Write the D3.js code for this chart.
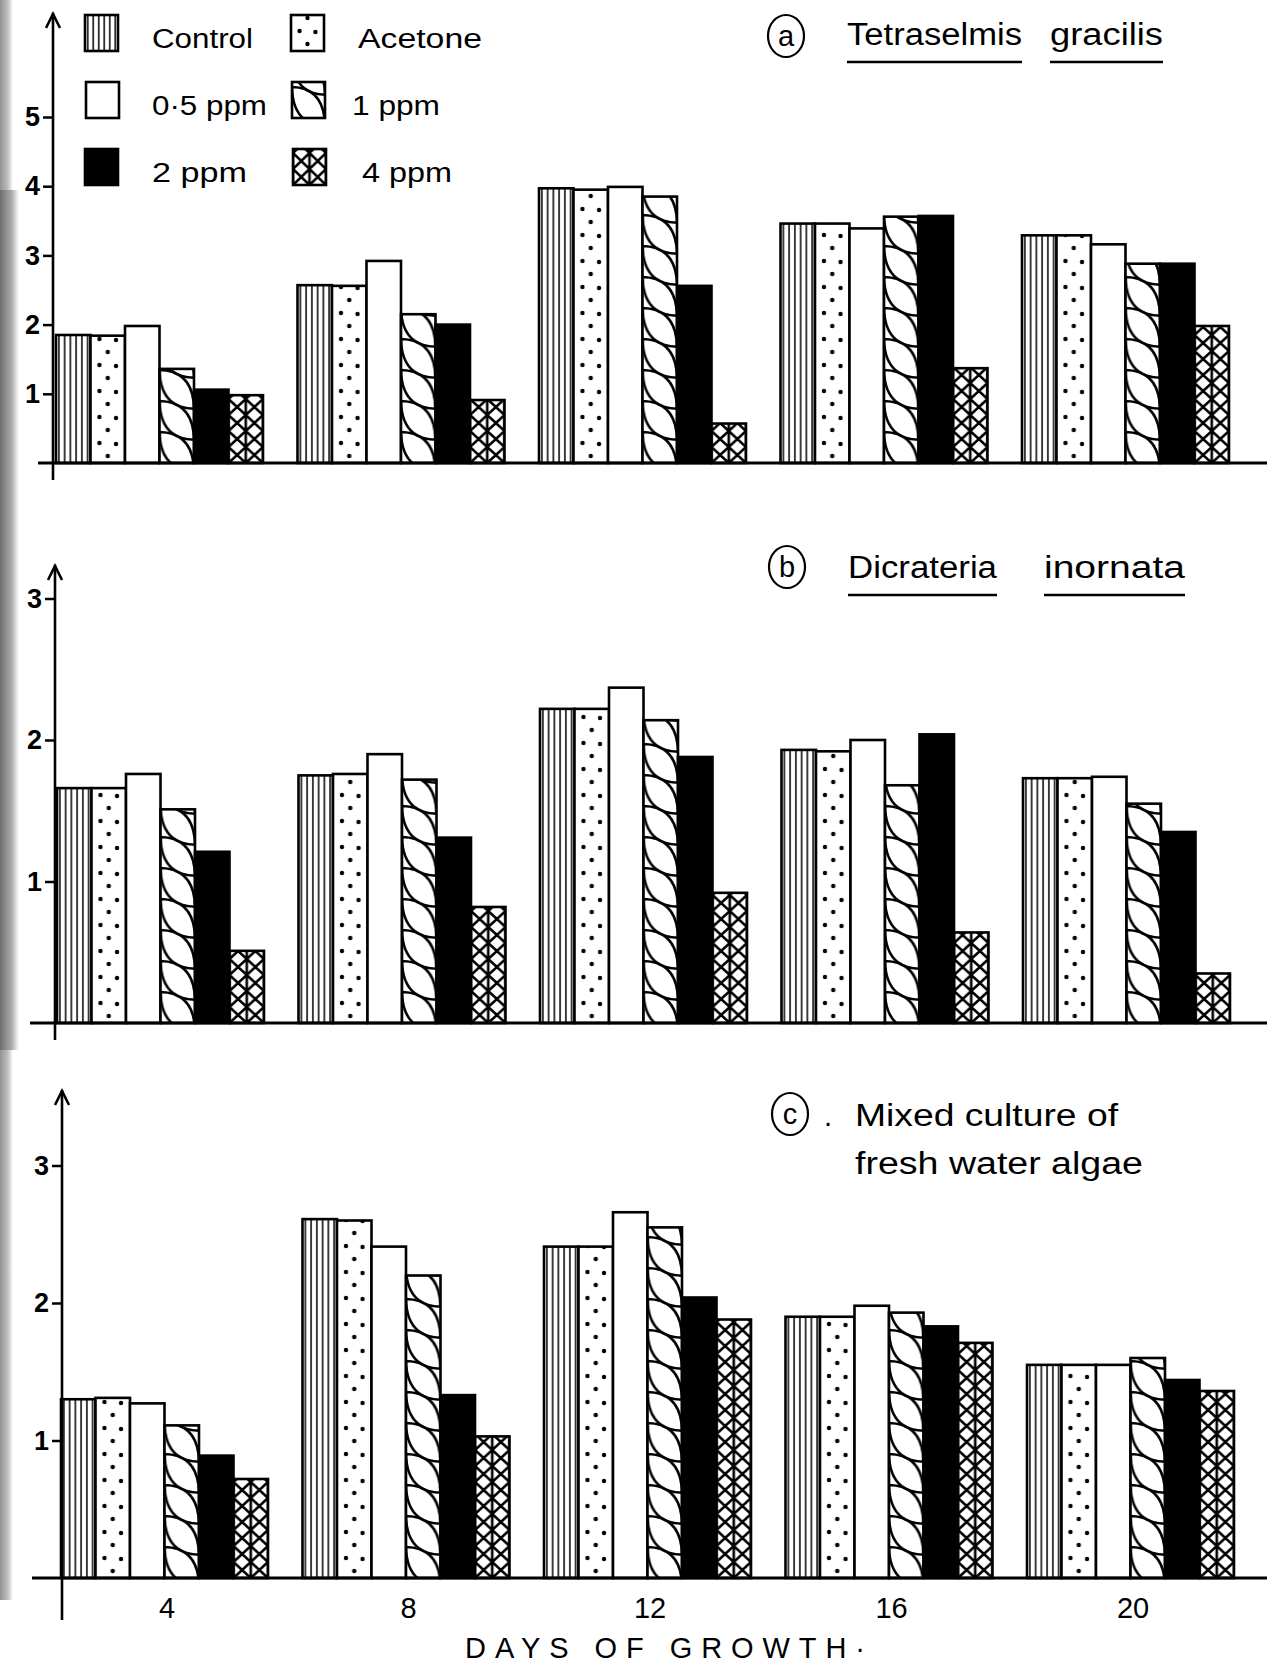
<!DOCTYPE html>
<html><head><meta charset="utf-8">
<script src="https://cdn.jsdelivr.net/npm/d3@7"></script>
<style>body{margin:0;background:#fff}svg{display:block}</style>
</head><body>
<script>
// ---------- data ----------
const days = [4, 8, 12, 16, 20];
const dayLabels = ["4", "8", "12", "16", "20"];
const seriesKeys = ["control", "acetone", "half", "one", "two", "four"];
const seriesNames = ["Control", "Acetone", "0·5 ppm", "1 ppm", "2 ppm", "4 ppm"];
const aTicks = [1, 2, 3, 4, 5];
const bTicks = [1, 2, 3];
const cTicks = [1, 2, 3];

// (a) Tetraselmis gracilis
const aControl = [1.85, 2.57, 3.97, 3.46, 3.29];
const aAcetone = [1.84, 2.56, 3.95, 3.46, 3.29];
const aHalf    = [1.98, 2.92, 3.99, 3.39, 3.16];
const aOne     = [1.36, 2.15, 3.85, 3.56, 2.88];
const aTwo     = [1.06, 2.00, 2.56, 3.57, 2.88];
const aFour    = [0.98, 0.91, 0.57, 1.37, 1.98];
// (b) Dicrateria inornata
const bControl = [1.66, 1.75, 2.22, 1.93, 1.73];
const bAcetone = [1.66, 1.76, 2.22, 1.92, 1.73];
const bHalf    = [1.76, 1.90, 2.37, 2.00, 1.74];
const bOne     = [1.51, 1.72, 2.14, 1.68, 1.55];
const bTwo     = [1.21, 1.31, 1.88, 2.04, 1.35];
const bFour    = [0.51, 0.82, 0.92, 0.64, 0.35];
// (c) Mixed culture of fresh water algae
const cControl = [1.30, 2.61, 2.41, 1.90, 1.55];
const cAcetone = [1.31, 2.60, 2.41, 1.90, 1.55];
const cHalf    = [1.27, 2.41, 2.66, 1.98, 1.55];
const cOne     = [1.11, 2.20, 2.55, 1.93, 1.60];
const cTwo     = [0.89, 1.33, 2.04, 1.83, 1.44];
const cFour    = [0.72, 1.03, 1.88, 1.71, 1.36];

// ---------- layout ----------
const W = 1267, H = 1663;
const FONT = "'Liberation Sans', Arial, sans-serif";
const NARROW = "'Liberation Sans Narrow', 'Liberation Sans', sans-serif";
const svg = d3.select("body").append("svg").attr("width", W).attr("height", H);
const defs = svg.append("defs");

// scanned left margin strip
const gr = defs.append("linearGradient").attr("id", "strip").attr("x1", 0).attr("x2", 1);
gr.append("stop").attr("offset", 0).attr("stop-color", "#6e6e6e");
gr.append("stop").attr("offset", 0.6).attr("stop-color", "#aaaaaa");
gr.append("stop").attr("offset", 1).attr("stop-color", "#fff");
svg.append("rect").attr("x", 0).attr("y", 0).attr("width", 13).attr("height", 1600).attr("fill", "url(#strip)").attr("opacity", 0.75);
svg.append("rect").attr("x", 0).attr("y", 190).attr("width", 19).attr("height", 860).attr("fill", "url(#strip)");

const panels = [
  {id: "a", vals: [aControl, aAcetone, aHalf, aOne, aTwo, aFour], ticks: aTicks, yMax: 5,
   axisX: 53, base: 463, top: 117, tip: 13, axisBottom: 480, x0: 56, baseLeft: 38},
  {id: "b", vals: [bControl, bAcetone, bHalf, bOne, bTwo, bFour], ticks: bTicks, yMax: 3,
   axisX: 55, base: 1023, top: 598.5, tip: 565, axisBottom: 1040, x0: 57, baseLeft: 30},
  {id: "c", vals: [cControl, cAcetone, cHalf, cOne, cTwo, cFour], ticks: cTicks, yMax: 3,
   axisX: 62, base: 1578, top: 1165.5, tip: 1090, axisBottom: 1620, x0: 61, baseLeft: 32}
];

const GROUP_W = 207;
const band = d3.scaleBand().domain(seriesKeys).range([0, GROUP_W]).padding(0);
const bw = band.bandwidth();

function makePattern(id, key, px, py, w) {
  if (key === "half" || key === "two") return null;
  const p = defs.append("pattern").attr("id", id).attr("patternUnits", "userSpaceOnUse").attr("x", px).attr("y", py);
  if (key === "control") {
    const tw = w / 6, th = 10;
    p.attr("width", tw).attr("height", th);
    p.append("rect").attr("width", tw).attr("height", th).attr("fill", "#fff");
    p.append("line").attr("x1", tw / 2).attr("x2", tw / 2).attr("y1", 0).attr("y2", th).attr("stroke", "#000").attr("stroke-width", 1.5);
  } else if (key === "acetone") {
    const tw = w, th = 26;
    p.attr("width", tw).attr("height", th);
    p.append("rect").attr("width", tw).attr("height", th).attr("fill", "#fff");
    p.append("circle").attr("cx", tw * 0.26).attr("cy", 6).attr("r", 2.2).attr("fill", "#000");
    p.append("circle").attr("cx", tw * 0.74).attr("cy", 7).attr("r", 2.2).attr("fill", "#000");
    p.append("circle").attr("cx", tw * 0.5).attr("cy", 19).attr("r", 2.2).attr("fill", "#000");
  } else if (key === "one") {
    const tw = w, th = 31, L = th * 1.25;
    p.attr("width", tw).attr("height", th);
    p.append("rect").attr("width", tw).attr("height", th).attr("fill", "#fff");
    [-2 * th, -th, 0, th].forEach(o => {
      p.append("path")
        .attr("d", `M0,${o} Q${tw * 0.02},${o + L * 0.98} ${tw},${o + L} Q${tw * 0.98},${o + L * 0.02} 0,${o}Z`)
        .attr("fill", "none").attr("stroke", "#000").attr("stroke-width", 2.5);
    });
  } else if (key === "four") {
    const tw = w / 2, th = 16;
    p.attr("width", tw).attr("height", th);
    p.append("rect").attr("width", tw).attr("height", th).attr("fill", "#fff");
    p.append("path").attr("d", `M0,0L${tw},${th}M${tw},0L0,${th}M0,0V${th}M${tw},0V${th}`)
      .attr("stroke", "#000").attr("stroke-width", 2.6).attr("fill", "none");
  }
  return `url(#${id})`;
}
function fillFor(key, url) {
  if (key === "half") return "#fff";
  if (key === "two") return "#000";
  return url;
}

panels.forEach(P => {
  const g = svg.append("g");
  const y = d3.scaleLinear().domain([0, P.yMax]).range([P.base, P.top]);
  const gx = d3.scaleLinear().domain([days[0], days[days.length - 1]]).range([P.x0, P.x0 + 966]);

  // bars
  days.forEach((d, i) => {
    seriesKeys.forEach((k, j) => {
      const v = P.vals[j][i];
      const bx = gx(d) + band(k);
      const url = makePattern(`p${P.id}${i}${j}`, k, bx, P.base, bw);
      g.append("rect")
        .attr("x", bx).attr("y", y(v)).attr("width", bw).attr("height", P.base - y(v))
        .attr("fill", fillFor(k, url)).attr("stroke", "#000").attr("stroke-width", 2.6);
    });
  });

  // baseline
  g.append("line").attr("x1", P.baseLeft).attr("x2", W).attr("y1", P.base).attr("y2", P.base)
    .attr("stroke", "#000").attr("stroke-width", 3);
  // y axis line + arrow
  g.append("line").attr("x1", P.axisX).attr("x2", P.axisX).attr("y1", P.axisBottom).attr("y2", P.tip)
    .attr("stroke", "#000").attr("stroke-width", 2.6);
  g.append("path").attr("d", `M${P.axisX - 7},${P.tip + 15}L${P.axisX},${P.tip + 1}L${P.axisX + 7},${P.tip + 15}`)
    .attr("fill", "none").attr("stroke", "#000").attr("stroke-width", 2.6);
  // ticks
  const ax = g.append("g").attr("transform", `translate(${P.axisX},0)`)
    .call(d3.axisLeft(y).tickValues(P.ticks).tickSize(10).tickPadding(3).tickFormat(d3.format("d")));
  ax.select(".domain").remove();
  ax.selectAll(".tick line").attr("stroke", "#000").attr("stroke-width", 2.5);
  ax.selectAll(".tick text").attr("fill", "#000").style("font-family", FONT)
    .style("font-size", "27px").style("font-weight", "bold");

  if (P.id === "c") {
    const xc = d3.scaleLinear().domain([days[0], days[days.length - 1]])
      .range([P.x0 + GROUP_W / 2 + 2, P.x0 + 966 + GROUP_W / 2 + 2]);
    const xa = g.append("g").attr("transform", `translate(0,${P.base + 19})`)
      .call(d3.axisBottom(xc).tickValues(days).tickSize(0).tickPadding(0).tickFormat((d, i) => dayLabels[i]));
    xa.select(".domain").remove();
    xa.selectAll(".tick text").attr("fill", "#000").style("font-family", NARROW).style("font-size", "29px");
  }
});

// x-axis title
svg.append("text").attr("x", 465).attr("y", 1658).attr("textLength", 400).attr("lengthAdjust", "spacing")
  .style("font-family", NARROW).style("font-size", "29px").text("DAYS OF GROWTH·");

// ---------- legend ----------
const legendPos = [
  {x: 85, y: 15, tx: 152, tlen: 101},
  {x: 291, y: 15, tx: 358, tlen: 124},
  {x: 86, y: 82, tx: 152, tlen: 115},
  {x: 292, y: 82, tx: 352, tlen: 88},
  {x: 85, y: 149, tx: 152, tlen: 95},
  {x: 293, y: 149, tx: 362, tlen: 90}
];
seriesKeys.forEach((k, j) => {
  const L = legendPos[j];
  const iw = 33, ih = 36;
  const url = makePattern(`leg${j}`, k, L.x, L.y + ih, iw);
  svg.append("rect").attr("x", L.x).attr("y", L.y).attr("width", iw).attr("height", ih)
    .attr("fill", fillFor(k, url)).attr("stroke", "#000").attr("stroke-width", 2.6);
  svg.append("text").attr("x", L.tx).attr("y", L.y + 33).attr("textLength", L.tlen).attr("lengthAdjust", "spacingAndGlyphs")
    .style("font-family", FONT).style("font-size", "27px").text(seriesNames[j]);
});

// ---------- panel titles ----------
function circled(cx, cy, letter) {
  svg.append("ellipse").attr("cx", cx).attr("cy", cy).attr("rx", 18).attr("ry", 21)
    .attr("fill", "none").attr("stroke", "#000").attr("stroke-width", 2.2);
  svg.append("text").attr("x", cx).attr("y", cy + 10).attr("text-anchor", "middle")
    .style("font-family", FONT).style("font-size", "29px").text(letter);
}
function word(x, y, len, s, ul) {
  svg.append("text").attr("x", x).attr("y", y).attr("textLength", len).attr("lengthAdjust", "spacingAndGlyphs")
    .style("font-family", NARROW).style("font-size", "31px").text(s);
  if (ul) svg.append("line").attr("x1", x).attr("x2", x + len).attr("y1", ul).attr("y2", ul)
    .attr("stroke", "#000").attr("stroke-width", 2.6);
}
circled(786, 36, "a");
word(847, 45, 175, "Tetraselmis", 62);
word(1050, 45, 113, "gracilis", 62);

circled(787, 567, "b");
word(848, 578, 149, "Dicrateria", 595);
word(1044, 578, 141, "inornata", 595);

circled(790, 1114, "c");
svg.append("text").attr("x", 824).attr("y", 1126).style("font-family", FONT).style("font-size", "29px").text(".");
word(855, 1126, 263, "Mixed culture of", null);
word(855, 1174, 288, "fresh water algae", null);
</script>
</body></html>
